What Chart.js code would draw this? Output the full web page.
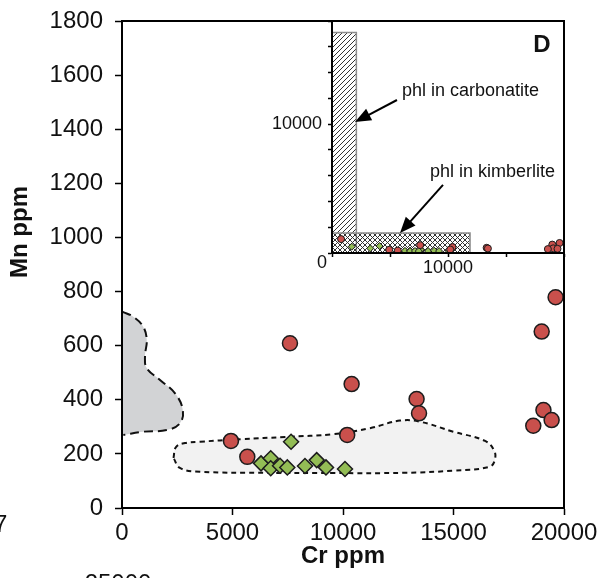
<!DOCTYPE html>
<html>
<head>
<meta charset="utf-8">
<script src="https://cdn.jsdelivr.net/npm/chart.js@4.4.1/dist/chart.umd.min.js"></script>
<style>
  html, body { margin: 0; padding: 0; background: #fff; }
  #wrap { position: relative; width: 616px; height: 578px; overflow: hidden; }
  #main { position: absolute; left: 0; top: 0; }
  #inset { position: absolute; left: 260px; top: 0; }
</style>
</head>
<body>
<div id="wrap">
  <canvas id="main" width="616" height="578"></canvas>
  <canvas id="inset" width="316" height="285"></canvas>
</div>
<script>
// Phlogopite Cr vs Mn (ppm)
const redCr   = [4930, 5670, 7600, 10390, 10190, 13330, 13440, 19620, 18990, 19070, 19440, 18610];
const redMn   = [248, 189, 609, 458, 270, 403, 350, 779, 652, 362, 325, 304];
const greenCr = [7650, 6290, 6730, 6730, 7150, 7480, 8280, 8810, 9230, 10090];
const greenMn = [245, 165, 184, 147, 156, 150, 155, 177, 150, 144];

// additional analyses shown only on the wide-range inset
const extraRedCr   = [780];
const extraRedMn   = [1080];
const extraGreenCr = [1700, 3300, 4100];
const extraGreenMn = [490, 360, 540];

// outline of the light field
const fieldCr = [2330, 2443, 2850, 3530, 5340, 7450, 9560, 11220, 12580, 13480, 14990, 16430, 16830, 16880, 16650, 14990, 12730, 9550, 6550, 3530, 2620, 2330];
const fieldMn = [185, 225, 240, 245, 254, 263, 273, 295, 323, 319, 282, 248, 214, 181, 153, 138, 130, 129, 130, 134, 148, 185];

// outline of the grey field against the Mn axis
const greyCr = [30, 510, 960, 1120, 1040, 1120, 1720, 2400, 2750, 2620, 2020, 960, 60];
const greyMn = [725, 707, 670, 621, 560, 517, 473, 424, 362, 313, 288, 282, 270];

// ranges of phlogopite in carbonatite / kimberlite (Cr, Mn)
const carbonatiteCr = [0, 2100];
const carbonatiteMn = [0, 17100];
const kimberliteCr  = [0, 11900];
const kimberliteMn  = [0, 1550];

// axis ticks
const mainXTicks = [0, 5000, 10000, 15000, 20000];
const mainYTicks = [0, 200, 400, 600, 800, 1000, 1200, 1400, 1600, 1800];
const insetLabelled = [10000];

// callouts on the inset
const calloutText = ['phl in carbonatite', 'phl in kimberlite'];
const calloutCr   = [6030, 8450];
const calloutMn   = [12570, 6280];
const arrowFromCr = [5600, 9570];
const arrowFromMn = [11870, 5280];
const arrowToCr   = [1980, 5860];
const arrowToMn   = [10160, 1550];

const FONT = "'Liberation Sans', Arial, Helvetica, sans-serif";
const INK = '#111';
const RED = '#C9504C';
const GREEN = '#93BD55';
const EDGE = '#1c1c1c';
Chart.defaults.font.family = FONT;
Chart.defaults.color = INK;

const pts = (xs, ys) => xs.map((x, i) => ({ x, y: ys[i] }));
const rect = (xr, yr) => pts([xr[0], xr[1], xr[1], xr[0], xr[0]], [yr[0], yr[0], yr[1], yr[1], yr[0]]);
const plain = v => String(v);

// ---------- main plot ----------
const mainDecor = {
  id: 'mainDecor',
  afterDraw(chart) {
    const { ctx, chartArea: a } = chart;
    ctx.save();
    ctx.strokeStyle = '#000';
    ctx.lineWidth = 2;
    ctx.strokeRect(a.left, a.top, a.right - a.left, a.bottom - a.top);
    ctx.fillStyle = INK;
    // axis titles
    ctx.font = 'bold 24px ' + FONT;
    ctx.textAlign = 'center';
    ctx.textBaseline = 'middle';
    ctx.fillText('Cr ppm', (a.left + a.right) / 2, 556);
    ctx.save();
    ctx.translate(20, 232);
    ctx.rotate(-Math.PI / 2);
    ctx.fillText('Mn ppm', 0, 0);
    ctx.restore();
    // labels of neighbouring panels at the edges
    ctx.font = '24px ' + FONT;
    ctx.textAlign = 'left';
    ctx.textBaseline = 'alphabetic';
    ctx.fillText('7', -6, 532);
    ctx.textAlign = 'center';
    ctx.fillText('25000', 118, 591);
    ctx.restore();
  }
};

new Chart(document.getElementById('main'), {
  type: 'scatter',
  data: {
    datasets: [
      { data: pts(redCr, redMn), pointStyle: 'circle', pointRadius: 7.5, backgroundColor: RED, borderColor: EDGE, borderWidth: 1.5, order: 0 },
      { data: pts(greenCr, greenMn), pointStyle: 'rectRot', pointRadius: 7.5, backgroundColor: GREEN, borderColor: EDGE, borderWidth: 1.5, order: 1 },
      { type: 'line', data: pts(fieldCr, fieldMn), fill: 'shape', backgroundColor: '#F2F2F2', borderColor: '#111', borderWidth: 2, borderDash: [5, 4], tension: 0.4, pointRadius: 0, order: 4 },
      { type: 'line', data: pts(greyCr, greyMn), fill: false, borderColor: '#111', borderWidth: 2, borderDash: [9, 5], tension: 0.4, pointRadius: 0, order: 5 },
      { type: 'line', data: pts([0, ...greyCr, 0, 0], [greyMn[0], ...greyMn, greyMn[greyMn.length - 1], greyMn[0]]), fill: 'shape', backgroundColor: '#D2D3D5', borderWidth: 0, borderColor: 'rgba(0,0,0,0)', tension: 0.4, pointRadius: 0, order: 6 }
    ]
  },
  options: {
    responsive: false,
    animation: false,
    events: [],
    layout: { padding: { top: 21, right: 52, left: 0, bottom: 0 } },
    plugins: { legend: { display: false }, tooltip: { enabled: false } },
    scales: {
      x: {
        type: 'linear', min: 0, max: 20000,
        afterFit(s) { s.height = 70; },
        afterBuildTicks(s) { s.ticks = mainXTicks.map(v => ({ value: v })); },
        ticks: { callback: plain, font: { size: 24 }, color: INK, padding: 4, maxRotation: 0, autoSkip: false },
        grid: { drawOnChartArea: false, drawTicks: true, tickLength: 7, tickWidth: 1.5, tickColor: '#000' },
        border: { display: true, color: '#000', width: 2 }
      },
      y: {
        type: 'linear', min: 0, max: 1800,
        afterFit(s) { s.width = 122; s.paddingTop = 0; s.paddingBottom = 0; },
        afterBuildTicks(s) { s.ticks = mainYTicks.map(v => ({ value: v })); },
        ticks: { callback: plain, font: { size: 24 }, color: INK, padding: 12, autoSkip: false },
        grid: { drawOnChartArea: false, drawTicks: true, tickLength: 7, tickWidth: 1.5, tickColor: '#000' },
        border: { display: true, color: '#000', width: 2 }
      }
    }
  },
  plugins: [mainDecor]
});

// ---------- inset with the full Mn range ----------
const insetCanvas = document.getElementById('inset');
function hatch(cross) {
  const s = 5;
  const c = document.createElement('canvas');
  c.width = s; c.height = s;
  const g = c.getContext('2d');
  g.strokeStyle = '#333';
  g.lineWidth = 1;
  g.beginPath();
  g.moveTo(0, s); g.lineTo(s, 0);
  g.moveTo(-1, 1); g.lineTo(1, -1);
  g.moveTo(s - 1, s + 1); g.lineTo(s + 1, s - 1);
  if (cross) {
    g.moveTo(0, 0); g.lineTo(s, s);
    g.moveTo(-1, s - 1); g.lineTo(1, s + 1);
    g.moveTo(s - 1, -1); g.lineTo(s + 1, 1);
  }
  g.stroke();
  return insetCanvas.getContext('2d').createPattern(c, 'repeat');
}

const insetDecor = {
  id: 'insetDecor',
  beforeDraw(chart) {
    const { ctx, chartArea: a } = chart;
    ctx.save();
    ctx.fillStyle = '#fff';
    ctx.fillRect(a.left, a.top, a.right - a.left, a.bottom - a.top);
    ctx.restore();
  },
  afterDraw(chart) {
    const { ctx, chartArea: a, scales: { x, y } } = chart;
    ctx.save();
    ctx.strokeStyle = '#000';
    ctx.lineWidth = 2;
    ctx.strokeRect(a.left, a.top, a.right - a.left, a.bottom - a.top);
    // callout arrows
    for (let i = 0; i < arrowFromCr.length; i++) {
      const x0 = x.getPixelForValue(arrowFromCr[i]), y0 = y.getPixelForValue(arrowFromMn[i]);
      const x1 = x.getPixelForValue(arrowToCr[i]), y1 = y.getPixelForValue(arrowToMn[i]);
      const ang = Math.atan2(y1 - y0, x1 - x0);
      const L = 16, W = 6.5;
      const bx = x1 - L * Math.cos(ang), by = y1 - L * Math.sin(ang);
      ctx.strokeStyle = '#000';
      ctx.lineWidth = 2;
      ctx.beginPath();
      ctx.moveTo(x0, y0);
      ctx.lineTo(bx + 2 * Math.cos(ang), by + 2 * Math.sin(ang));
      ctx.stroke();
      ctx.fillStyle = '#000';
      ctx.beginPath();
      ctx.moveTo(x1, y1);
      ctx.lineTo(bx - W * Math.sin(ang), by + W * Math.cos(ang));
      ctx.lineTo(bx + W * Math.sin(ang), by - W * Math.cos(ang));
      ctx.closePath();
      ctx.fill();
    }
    ctx.fillStyle = INK;
    ctx.font = '18px ' + FONT;
    ctx.textAlign = 'left';
    ctx.textBaseline = 'middle';
    for (let i = 0; i < calloutText.length; i++) {
      ctx.fillText(calloutText[i], x.getPixelForValue(calloutCr[i]), y.getPixelForValue(calloutMn[i]));
    }
    // shared origin label
    ctx.textAlign = 'center';
    ctx.fillText('0', a.left - 10, a.bottom + 10);
    // panel letter
    ctx.font = 'bold 24px ' + FONT;
    ctx.fillText('D', a.right - 22, a.top + 24);
    ctx.restore();
  }
};

const showLabelled = v => insetLabelled.includes(v) ? String(v) : '';

new Chart(insetCanvas, {
  type: 'scatter',
  data: {
    datasets: [
      { data: pts([...redCr, ...extraRedCr], [...redMn, ...extraRedMn]), pointStyle: 'circle', pointRadius: 3.5, backgroundColor: RED, borderColor: EDGE, borderWidth: 1, order: 0 },
      { data: pts([...greenCr, ...extraGreenCr], [...greenMn, ...extraGreenMn]), pointStyle: 'rectRot', pointRadius: 3.5, backgroundColor: GREEN, borderColor: EDGE, borderWidth: 1, order: 1 },
      { type: 'line', data: rect(kimberliteCr, kimberliteMn), fill: 'shape', backgroundColor: hatch(true), borderColor: '#8c8c8c', borderWidth: 1.5, tension: 0, pointRadius: 0, order: 3 },
      { type: 'line', data: rect(carbonatiteCr, carbonatiteMn), fill: 'shape', backgroundColor: hatch(false), borderColor: '#8c8c8c', borderWidth: 1.5, tension: 0, pointRadius: 0, order: 4 }
    ]
  },
  options: {
    responsive: false,
    animation: false,
    events: [],
    layout: { padding: { top: 21, right: 12, left: 0, bottom: 0 } },
    plugins: { legend: { display: false }, tooltip: { enabled: false } },
    scales: {
      x: {
        type: 'linear', min: 0, max: 20000,
        afterFit(s) { s.height = 32; },
        ticks: { stepSize: 5000, callback: showLabelled, font: { size: 18 }, color: INK, padding: 0, maxRotation: 0, autoSkip: false },
        grid: { drawOnChartArea: false, drawTicks: true, tickLength: 4, tickWidth: 1.5, tickColor: '#000' },
        border: { display: true, color: '#000', width: 2 }
      },
      y: {
        type: 'linear', min: 0, max: 18000,
        afterFit(s) { s.width = 72; s.paddingTop = 0; s.paddingBottom = 0; },
        ticks: { stepSize: 2000, callback: showLabelled, font: { size: 18 }, color: INK, padding: 6, autoSkip: false },
        grid: { drawOnChartArea: false, drawTicks: true, tickLength: 4, tickWidth: 1.5, tickColor: '#000' },
        border: { display: true, color: '#000', width: 2 }
      }
    }
  },
  plugins: [insetDecor]
});
</script>
</body>
</html>
